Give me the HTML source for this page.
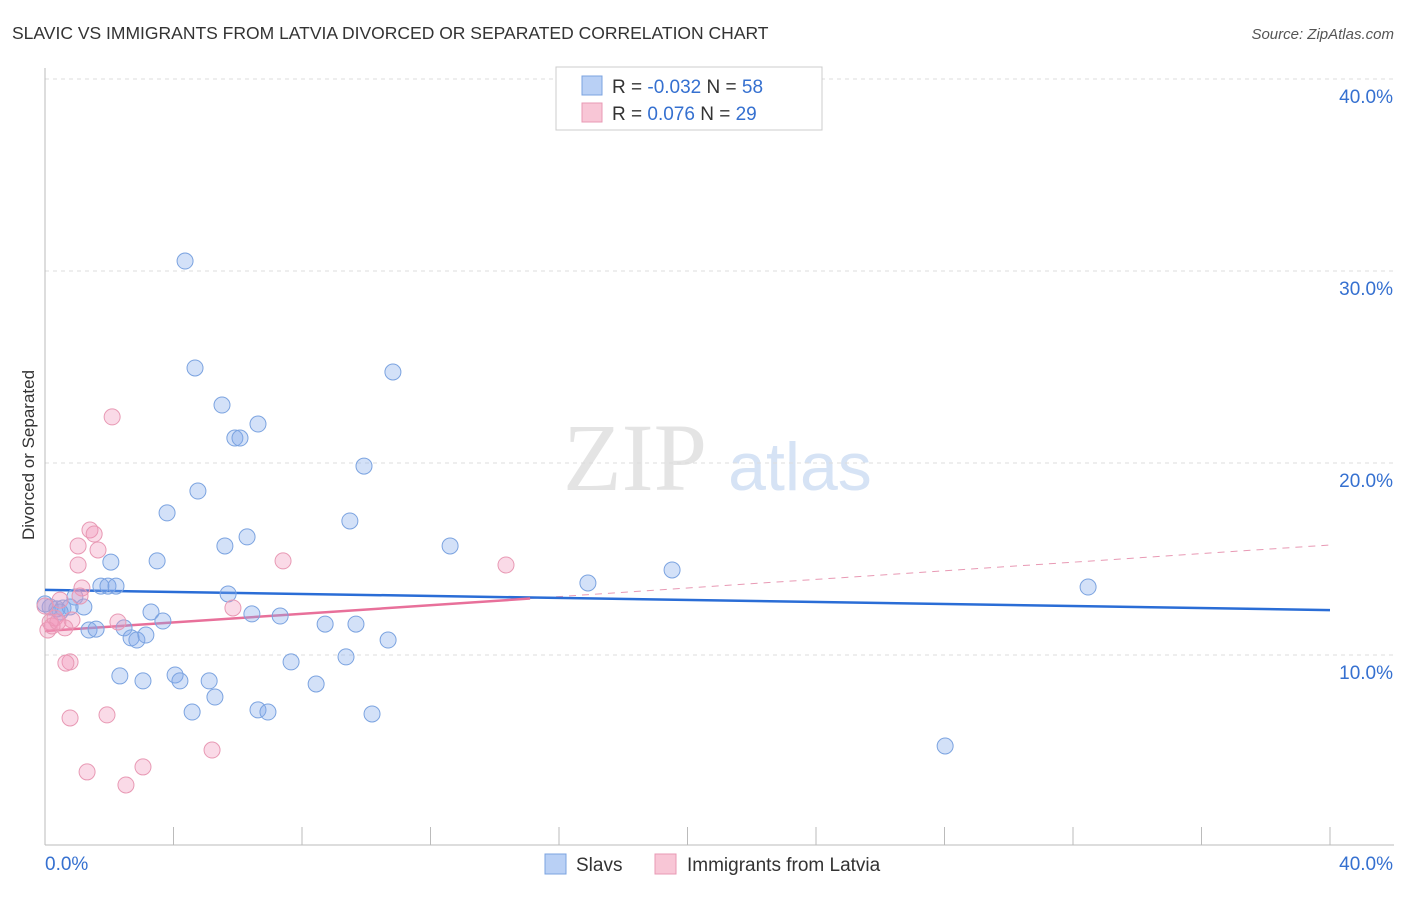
<!DOCTYPE html>
<html><head><meta charset="utf-8">
<style>
body{margin:0;background:#fff;font-family:"Liberation Sans",sans-serif;}
svg text{font-family:"Liberation Sans",sans-serif;}
</style></head>
<body>
<svg id="chart" width="1406" height="892" xmlns="http://www.w3.org/2000/svg">
<text x="12" y="39" font-size="17.5" fill="#333">SLAVIC VS IMMIGRANTS FROM LATVIA DIVORCED OR SEPARATED CORRELATION CHART</text>
<text x="1394" y="39" font-size="15" fill="#555" text-anchor="end" font-style="italic">Source: ZipAtlas.com</text>
<text transform="translate(34,455) rotate(-90)" font-size="17" fill="#333" text-anchor="middle">Divorced or Separated</text>
<g>
<text x="635" y="490" font-size="96" fill="#e4e4e4" text-anchor="middle" font-family="Liberation Serif,serif" style="font-family:'Liberation Serif',serif">ZIP</text>
<text x="800" y="490" font-size="68" fill="#d6e3f5" text-anchor="middle">atlas</text>
</g>
<g id="grid"></g>
<g id="axes"></g>
<g id="trends"></g>
<g id="points"></g>
<g>
<rect x="556" y="67" width="266" height="63" fill="#fff" stroke="#ccc"/>
<rect x="582" y="76" width="20" height="19" fill="#b9d0f5" stroke="#7ba3e0"/>
<rect x="582" y="103" width="20" height="19" fill="#f8c6d6" stroke="#e899b4"/>
<text x="612" y="93" font-size="19" fill="#333">R = <tspan fill="#3570d0">-0.032</tspan>   N = <tspan fill="#3570d0">58</tspan></text>
<text x="612" y="120" font-size="19" fill="#333">R =   <tspan fill="#3570d0">0.076</tspan>   N = <tspan fill="#3570d0">29</tspan></text>
</g>
<g>
<rect x="545" y="854" width="21" height="20" fill="#b9d0f5" stroke="#7ba3e0"/>
<text x="576" y="871" font-size="19" fill="#333">Slavs</text>
<rect x="655" y="854" width="21" height="20" fill="#f8c6d6" stroke="#e899b4"/>
<text x="687" y="871" font-size="19" fill="#333">Immigrants from Latvia</text>
</g>
</svg>
<script>
const yTicks=[10,20,30,40];
const yTickLabels=["10.0%","20.0%","30.0%","40.0%"];
const xTicks=[0,4,8,12,16,20,24,28,32,36,40];
const slavX=[4.36,4.67,5.51,6.63,5.91,6.07,10.83,9.93,4.76,3.80,9.49,6.29,5.60,12.61,3.49,2.05,1.74,1.96,2.21,16.90,19.52,32.47,5.70,0.93,0.16,0.37,0.56,0.78,1.21,3.30,3.67,6.44,7.32,8.72,9.68,1.37,1.59,2.46,2.68,2.86,3.14,10.68,7.66,9.37,2.33,4.05,4.20,3.05,5.11,8.44,5.29,4.58,6.63,6.94,10.18,28.02,0,0.47];
const slavY=[30.52,24.95,23.02,22.03,21.30,21.30,24.74,19.84,18.54,17.40,16.98,16.15,15.68,15.68,14.90,14.84,13.59,13.59,13.59,13.75,14.43,13.54,13.18,13.02,12.50,12.40,12.45,12.50,12.50,12.24,11.77,12.14,12.03,11.61,11.61,11.30,11.35,11.41,10.89,10.78,11.04,10.78,9.64,9.90,8.91,8.96,8.65,8.65,8.65,8.49,7.81,7.03,7.14,7.03,6.93,5.26,12.66,12.24];
const latX=[2.09,1.40,1.53,1.03,1.65,7.41,1.03,14.35,1.15,1.09,0.47,5.85,2.27,0.84,0.16,0.31,0.62,0.09,0.22,0.40,0.78,0.65,0.78,1.93,5.20,3.05,1.31,2.52,0];
const latY=[22.40,16.51,16.30,15.68,15.47,14.90,14.69,14.69,13.49,13.07,12.86,12.45,11.72,11.82,11.72,11.93,11.41,11.30,11.51,11.72,9.64,9.58,6.72,6.88,5.05,4.17,3.91,3.23,12.55];
const slavTrend=[13.39,12.34]; // value at x=0 and x=40
const latTrend=[11.25,15.73];
const latSolidEnd=15.1;

const NS="http://www.w3.org/2000/svg";
const X=v=>45+v*32.125, Y=v=>847-v*19.2;
function mk(tag,attrs,parent){const e=document.createElementNS(NS,tag);for(const k in attrs)e.setAttribute(k,attrs[k]);parent.appendChild(e);return e;}
const grid=document.getElementById('grid'),axes=document.getElementById('axes'),trends=document.getElementById('trends'),pts=document.getElementById('points');
yTicks.forEach((t,i)=>{
  const l=mk('line',{x1:45,x2:1394,y1:Y(t),y2:Y(t),stroke:'#ddd','stroke-dasharray':'4,4'},grid);
  
  
  const tx=mk('text',{x:1393,y:Y(t)+24,'font-size':19,fill:'#3570d0','text-anchor':'end'},axes);
  tx.textContent=yTickLabels[i];
  
  
});
const ax=mk('line',{x1:45,x2:1394,y1:845,y2:845,stroke:'#bbb'},axes);


const ay=mk('line',{x1:45,x2:45,y1:68,y2:845,stroke:'#bbb'},axes);


xTicks.forEach(t=>{
  const l=mk('line',{x1:X(t),x2:X(t),y1:827,y2:845,stroke:'#bbb'},axes);
  
  
});
const x0=mk('text',{x:45,y:870,'font-size':19,fill:'#3570d0'},axes);x0.textContent='0.0%';


const x1=mk('text',{x:1393,y:870,'font-size':19,fill:'#3570d0','text-anchor':'end'},axes);x1.textContent='40.0%';



function pt(xs,ys,fill,stroke,name){xs.forEach((x,i)=>{
  const c=mk('circle',{cx:X(x),cy:Y(ys[i]),r:8,fill:fill,stroke:stroke,'stroke-width':1},pts);
  
  
});}
pt(slavX,slavY,'rgba(130,170,235,0.35)','#7ba3e0','slavs-point');
pt(latX,latY,'rgba(240,150,185,0.35)','#e899b4','latvia-point');

const latAt=x=>latTrend[0]+(latTrend[1]-latTrend[0])*x/40;
const ld=mk('line',{x1:X(latSolidEnd),y1:Y(latAt(latSolidEnd)),x2:X(40),y2:Y(latTrend[1]),stroke:'#e899b4','stroke-dasharray':'7,6','stroke-width':1},trends);


const bl=mk('line',{x1:X(0),y1:Y(slavTrend[0]),x2:X(40),y2:Y(slavTrend[1]),stroke:'#2a6dd6','stroke-width':2.5},trends);


const pl=mk('line',{x1:X(0),y1:Y(latTrend[0]),x2:X(latSolidEnd),y2:Y(latAt(latSolidEnd)),stroke:'#e8709a','stroke-width':2.5},trends);


</script>
</body></html>
